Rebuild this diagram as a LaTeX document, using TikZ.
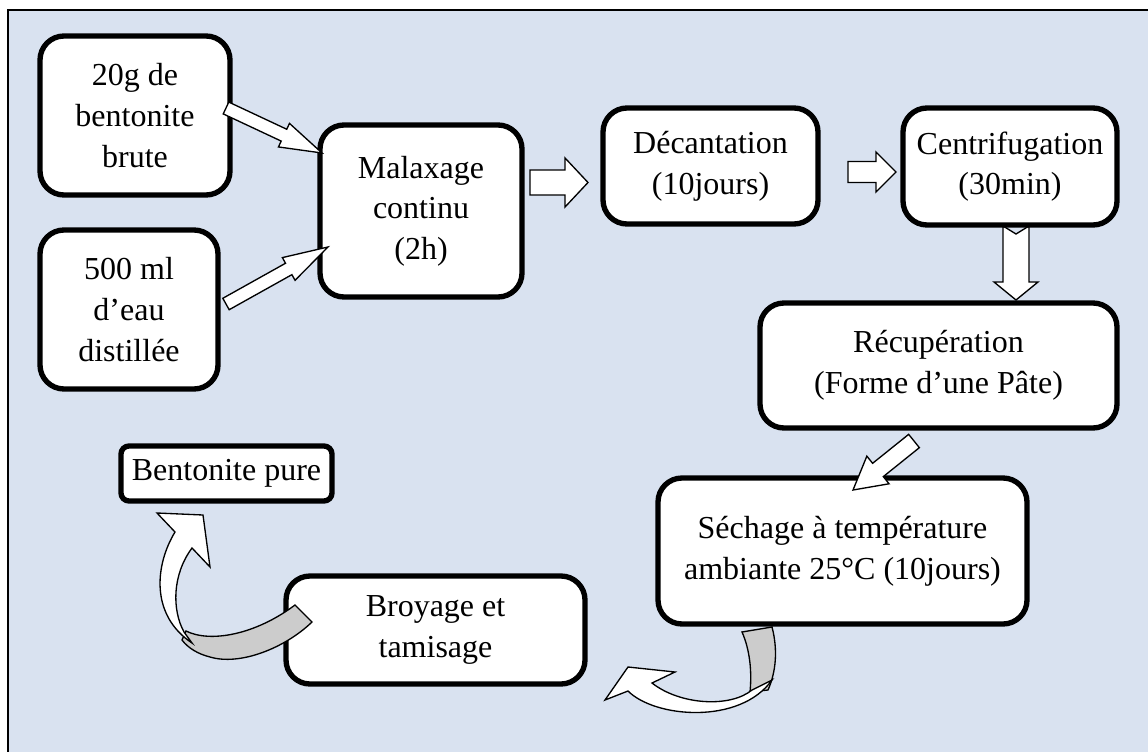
\documentclass[tikz,border=0pt]{standalone}
\usepackage{fontspec}
\setmainfont{Liberation Serif}
\usetikzlibrary{calc}
\definecolor{bgblue}{HTML}{D9E2F0}
\definecolor{ribgray}{HTML}{CCCCCC}
\tikzset{
  box/.style={draw=black, line width=4pt, fill=white, rounded corners=18pt,
    inner sep=0pt, align=center, font=\fontsize{24}{30.5}\selectfont},
  smallbox/.style={box, rounded corners=6pt},
  blk/.style={draw=black, line width=1pt, fill=white, line join=miter},
  ribbon/.style={draw=black, line width=1pt, fill=white, line join=miter},
  ribbonback/.style={draw=black, line width=1pt, fill=ribgray, line join=miter},
}
\newcommand\blkarrow[6]{%
  \coordinate (ba-b) at ($(#2)!#5!(#1)$);
  \draw[blk] ($(#1)!#3!90:(#2)$) -- ($(ba-b)!#3!-90:(#1)$) -- ($(ba-b)!#4!-90:(#1)$)
    -- (#2) -- ($(ba-b)!#4!90:(#1)$) -- ($(ba-b)!#3!90:(#1)$) -- ($(#1)!#3!-90:(#2)$)
    -- ($(#1)!#6!(#2)$) -- cycle;}
\begin{document}
\begin{tikzpicture}[x=0.75pt,y=-0.75pt]
\useasboundingbox (0,0) rectangle (1148,752);
\clip (0,0) rectangle (1148,752);
\fill[bgblue] (8,10) rectangle (1160,770);
\draw[line width=2pt] (8,780) -- (8,10) -- (1160,10);

% arrow under the boxes
\coordinate (a5t) at (1016,226);
\coordinate (a5h) at (1016,300);
\blkarrow{a5t}{a5h}{9.75pt}{16.5pt}{13.5pt}{6pt}

% boxes
\node[box, minimum width=142.5pt, minimum height=119.25pt] (b1) at (135,115.5) {20g de\\bentonite\\brute};
\node[box, minimum width=133.5pt, minimum height=119.25pt] (b2) at (129,309.5) {500 ml\\d’eau\\distillée};
\node[box, minimum width=151.5pt, minimum height=129pt] (mal) at (421,211) {Malaxage\\continu\\(2h)};
\node[box, minimum width=161.25pt, minimum height=87pt] (dec) at (710.5,166) {Décantation\\(10jours)};
\node[box, minimum width=160.5pt, minimum height=87.75pt] (cen) at (1010,166.5) {Centrifugation\\(30min)};
\node[box, minimum width=267.75pt, minimum height=93.75pt] (rec) at (938.5,365.5) {Récupération\\(Forme d’une Pâte)};
\node[box, minimum width=276.75pt, minimum height=109.5pt] (sec) at (842.5,551) {Séchage à température\\ambiante 25°C (10jours)};
\node[box, minimum width=224.25pt, minimum height=81pt] (bro) at (435.5,630) {Broyage et\\tamisage};
\node[smallbox, minimum width=158.25pt, minimum height=41.25pt] (pur) at (226.5,473.5) {Bentonite pure};

% straight block arrows
\coordinate (a1t) at (226,108);  \coordinate (a1h) at (322,153);
\coordinate (a2t) at (226,304);  \coordinate (a2h) at (328,247);
\coordinate (a3t) at (530,182.5); \coordinate (a3h) at (588,182.5);
\coordinate (a4t) at (848,172);  \coordinate (a4h) at (896,172);
\coordinate (a6t) at (914,441);  \coordinate (a6h) at (853,490);
\blkarrow{a1t}{a1h}{4.9pt}{9.75pt}{31.5pt}{0pt}
\blkarrow{a2t}{a2h}{4.9pt}{9.75pt}{33.75pt}{0pt}
\blkarrow{a3t}{a3h}{9.4pt}{18.4pt}{17.25pt}{0pt}
\blkarrow{a4t}{a4h}{7.9pt}{15pt}{15pt}{0pt}
\blkarrow{a6t}{a6h}{6.4pt}{13.3pt}{24pt}{0pt}

% curved arrow: Sechage -> Broyage
\draw[ribbonback] (742,632) -- (772,627) .. controls (778,650) and (776,672) .. (768,690)
  -- (750,692) .. controls (752,672) and (750,650) .. (742,632) -- cycle;
\draw[ribbon] (628,667) -- (605,700) -- (628,691) .. controls (655,718) and (740,725) .. (772,680)
  -- (752,690) .. controls (730,708) and (680,705) .. (652,683) -- (675,672) -- cycle;

% curved arrow: Broyage -> Bentonite pure
\draw[ribbonback] (295,605) -- (312,622) .. controls (285,648) and (240,666) .. (210,657)
  .. controls (198,654) and (188,648) .. (182,640) -- (186,631)
  .. controls (210,643) and (255,635) .. (295,605) -- cycle;
\draw[ribbon] (203,515) -- (157,513) -- (175,532) .. controls (155,565) and (150,615) .. (192,643)
  -- (184,632) .. controls (172,610) and (172,575) .. (192,548) -- (210,567) -- cycle;
\end{tikzpicture}
\end{document}
